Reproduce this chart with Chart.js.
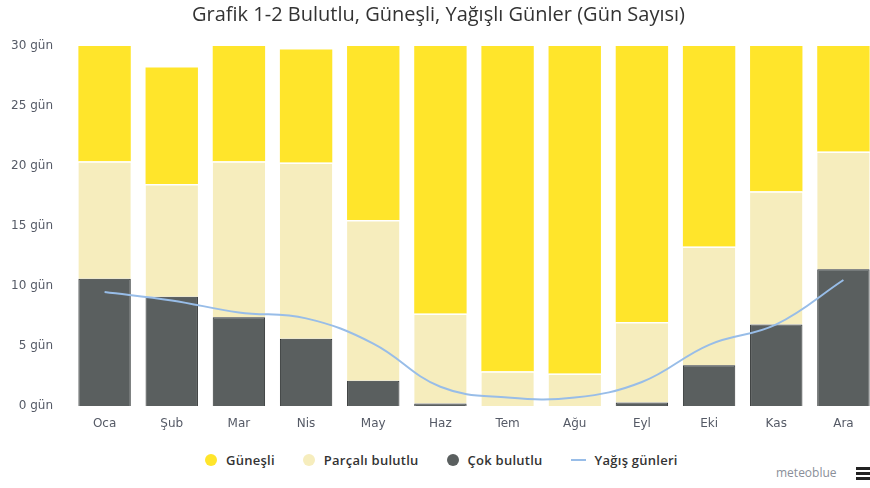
<!DOCTYPE html>
<html>
<head>
<meta charset="utf-8">
<script src="https://cdn.jsdelivr.net/npm/chart.js@4/dist/chart.umd.min.js"></script>
<style>
  html, body { margin: 0; padding: 0; background: #fff; overflow: hidden; }
  #wrap { position: relative; width: 890px; height: 488px; }
  #legend {
    position: absolute; top: 451px; left: 205px;
    font-family: "Open Sans", sans-serif; font-size: 13px; font-weight: 600; color: #333;
    letter-spacing: 0.25px;
    display: flex; align-items: center;
  }
  #legend span.item { display: flex; align-items: center; margin-right: 28px; }
  #legend i.dot { display: inline-block; width: 12px; height: 12px; border-radius: 50%; margin-right: 9px; }
  #legend i.ln { display: inline-block; width: 15px; height: 2px; margin-right: 9px; }
  #brand {
    position: absolute; top: 464px; left: 776px;
    font-family: "Open Sans", sans-serif; font-size: 12px; color: #8a8f99;
  }
  #menu { position: absolute; top: 467px; left: 856px; width: 15px; }
  #menu div { height: 3px; background: #222; margin-bottom: 2px; }
</style>
</head>
<body>
<div id="wrap">
  <canvas id="chart" width="890" height="440"></canvas>
  <div id="legend"></div>
  <div id="brand">meteoblue</div>
  <div id="menu"><div></div><div></div><div></div></div>
</div>
<script>
const months = ['Oca', 'Şub', 'Mar', 'Nis', 'May', 'Haz', 'Tem', 'Ağu', 'Eyl', 'Eki', 'Kas', 'Ara'];
const overcast = [10.6, 9.1, 7.4, 5.6, 2.1, 0.2, 0, 0, 0.3, 3.4, 6.8, 11.4];
const partly = [9.8, 9.4, 13.0, 14.7, 13.4, 7.5, 2.9, 2.7, 6.7, 9.9, 11.1, 9.8];
const sunny = [9.6, 9.7, 9.6, 9.4, 14.5, 22.3, 27.1, 27.3, 23.0, 16.7, 12.1, 8.8];
const rainDays = [9.5, 8.8, 7.8, 7.3, 5.2, 1.6, 0.7, 0.7, 2.0, 5.1, 6.8, 10.5];
const yTicks = [0, 5, 10, 15, 20, 25, 30];

const colSunny = '#ffe52b';
const colPartly = '#f6edbd';
const colOvercast = '#5a5f5f';
const colRain = '#98bde8';

const legendItems = [
    { label: 'Güneşli', color: colSunny, kind: 'dot' },
    { label: 'Parçalı bulutlu', color: colPartly, kind: 'dot' },
    { label: 'Çok bulutlu', color: colOvercast, kind: 'dot' },
    { label: 'Yağış günleri', color: colRain, kind: 'ln' }
];
for (let it of legendItems) {
    let s = document.createElement('span');
    s.className = 'item';
    s.innerHTML = '<i class="' + it.kind + '" style="background:' + it.color + '"></i>' + it.label;
    document.getElementById('legend').appendChild(s);
}

const tickFont = { family: 'DejaVu Sans', size: 12 };

new Chart(document.getElementById('chart'), {
    data: {
        labels: months,
        datasets: [
            {
                type: 'line', label: 'Yağış günleri', data: rainDays, stack: 'rain',
                borderColor: colRain, borderWidth: 2, pointRadius: 0, tension: 0.4, order: 0
            },
            {
                type: 'bar', label: 'Çok bulutlu', data: overcast, stack: 'days',
                backgroundColor: colOvercast, borderColor: '#2c3030', borderWidth: 1, order: 1
            },
            {
                type: 'bar', label: 'Parçalı bulutlu', data: partly, stack: 'days',
                backgroundColor: colPartly, borderColor: '#ffffff', borderWidth: { top: 1.5 }, borderSkipped: false, order: 1
            },
            {
                type: 'bar', label: 'Güneşli', data: sunny, stack: 'days',
                backgroundColor: colSunny, borderWidth: 0, order: 1
            }
        ]
    },
    options: {
        responsive: false,
        animation: false,
        layout: { padding: { left: 0, right: 13, top: 0, bottom: 0 } },
        datasets: { bar: { categoryPercentage: 1, barPercentage: 0.78 } },
        plugins: {
            legend: { display: false },
            tooltip: { enabled: false },
            title: {
                display: true,
                text: 'Grafik 1-2 Bulutlu, Güneşli, Yağışlı Günler (Gün Sayısı)',
                color: '#333',
                font: { family: 'Open Sans', size: 20, weight: 'normal' },
                padding: { top: 3, bottom: 19 }
            }
        },
        scales: {
            x: {
                stacked: true,
                grid: { display: false },
                border: { display: false },
                ticks: { color: '#555a66', font: tickFont, padding: 3 },
                afterFit: (axis) => { axis.height = 34; }
            },
            y: {
                stacked: true,
                min: 0, max: 30,
                grid: { display: false, drawTicks: false },
                border: { display: false },
                afterBuildTicks: (axis) => { axis.ticks = yTicks.map(v => ({ value: v })); },
                ticks: { color: '#555a66', font: tickFont, padding: 18, callback: (v) => v + ' gün' },
                afterFit: (axis) => { axis.width = 71; }
            }
        }
    }
});
</script>
</body>
</html>
